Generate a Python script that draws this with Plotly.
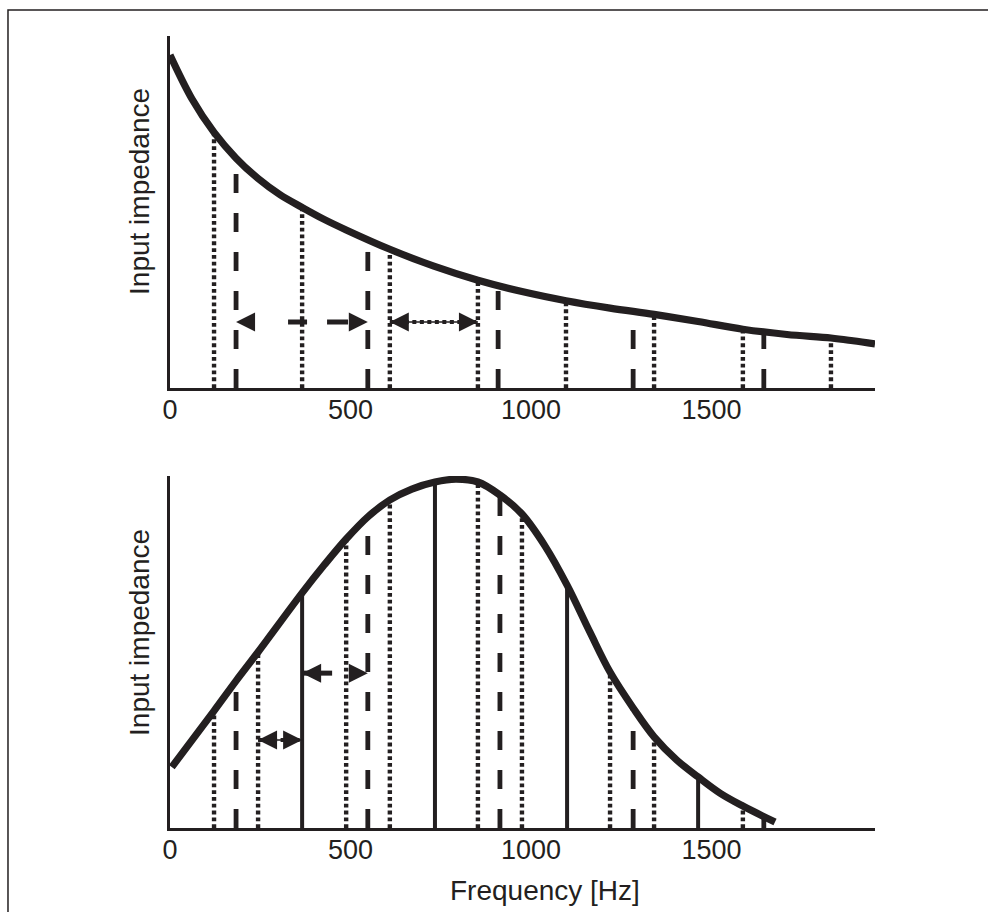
import plotly.graph_objects as go

# ---------------- data ----------------
# frequency axis in Hz, impedance in arbitrary units (0-100)
top_curve_hz = [0, 61, 122, 183, 244, 305, 366, 427, 488, 609, 731, 853, 975, 1097,
                1219, 1341, 1463, 1587, 1709, 1831, 1892, 1953]
top_curve_val = [94.6, 82.1, 72.6, 65.3, 59.5, 54.9, 51.3, 47.9, 44.9, 39.4, 34.6, 30.6,
                 27.4, 24.8, 22.7, 20.9, 18.9, 16.7, 15.2, 14.2, 13.4, 12.5]

bottom_curve_hz = [5, 122, 183, 244, 366, 427, 488, 548, 609, 670, 734, 792, 853, 914,
                   975, 1039, 1100, 1163, 1219, 1283, 1341, 1404, 1463, 1524, 1587, 1676]
bottom_curve_val = [17.3, 33.3, 41.8, 50.0, 66.8, 74.7, 82.1, 88.4, 93.2, 96.3, 98.3, 99.1,
                    98.3, 94.6, 89.2, 80.1, 69.0, 55.7, 44.3, 34.1, 25.9, 19.3, 14.5, 9.9,
                    6.25, 1.7]

top_dotted_hz = [122, 366, 609, 853, 1097, 1341, 1587, 1831]
top_dotted_val = [72.6, 51.3, 39.4, 30.6, 24.8, 20.9, 16.7, 14.2]
top_dashed_hz = [183, 548, 909, 1283, 1645]
top_dashed_val = [65.3, 42.0, 29.1, 21.8, 16.0]

bottom_solid_hz = [366, 734, 1100, 1463]
bottom_solid_val = [66.8, 98.3, 69.0, 14.5]
bottom_dotted_hz = [122, 244, 488, 609, 853, 975, 1219, 1341, 1587]
bottom_dotted_val = [33.3, 50.0, 82.1, 93.2, 98.3, 89.2, 44.3, 25.9, 6.25]
bottom_dashed_hz = [183, 548, 914, 1283, 1645]
bottom_dashed_val = [41.8, 88.4, 94.6, 34.1, 3.3]

arrow_panel = [1, 1, 2, 2]
arrow_from_hz = [183, 609, 366, 244]
arrow_to_hz = [548, 853, 548, 366]
arrow_level = [18.75, 18.75, 44.0, 25.0]
arrow_kind = ["dash", "dot", "dash", "dot"]

x_tick_vals = [0, 500, 1000, 1500]
x_tick_text = ["0", "500", "1000", "1500"]
y_title = "Input impedance"
x_title = "Frequency [Hz]"

# ---------------- styling ----------------
INK = "#231f20"
FONT = "Liberation Sans, Arial, Helvetica, sans-serif"
DASH = "19px,20px"
DOT = "3.8px,3px"
SHAFT_DASH = {0: "0px,52px,19px,20px,21px,400px", 2: "30px,300px"}

fig = go.Figure()


def vlines(xs, vals, panel, dash, width):
    for xv, top in zip(xs, vals):
        fig.add_trace(go.Scatter(
            x=[xv, xv], y=[0, top], mode="lines",
            xaxis="x" if panel == 1 else "x2", yaxis="y" if panel == 1 else "y2",
            line=dict(color=INK, width=width, dash=dash),
            hoverinfo="skip", showlegend=False))


vlines(top_dotted_hz, top_dotted_val, 1, DOT, 4.4)
vlines(top_dashed_hz, top_dashed_val, 1, DASH, 4.8)
vlines(bottom_dotted_hz, bottom_dotted_val, 2, DOT, 4.4)
vlines(bottom_dashed_hz, bottom_dashed_val, 2, DASH, 4.8)
vlines(bottom_solid_hz, bottom_solid_val, 2, "solid", 4)

for xs, ys, panel in [(top_curve_hz, top_curve_val, 1), (bottom_curve_hz, bottom_curve_val, 2)]:
    fig.add_trace(go.Scatter(
        x=xs, y=ys, mode="lines", line=dict(color=INK, width=7.2, shape="spline", smoothing=1.0),
        xaxis="x" if panel == 1 else "x2", yaxis="y" if panel == 1 else "y2",
        hoverinfo="skip", showlegend=False))

annotations = []
for i, (p, a, b, lv, kind) in enumerate(zip(arrow_panel, arrow_from_hz, arrow_to_hz,
                                               arrow_level, arrow_kind)):
    xa = "x" if p == 1 else "x2"
    ya = "y" if p == 1 else "y2"
    if kind == "dash":
        fig.add_trace(go.Scatter(x=[a, b], y=[lv, lv], mode="lines", xaxis=xa, yaxis=ya,
                                 line=dict(color=INK, width=5, dash=SHAFT_DASH.get(i, DASH)),
                                 hoverinfo="skip", showlegend=False))
    else:
        fig.add_trace(go.Scatter(x=[a, b], y=[lv, lv], mode="lines", xaxis=xa, yaxis=ya,
                                 line=dict(color=INK, width=1.6),
                                 hoverinfo="skip", showlegend=False))
        fig.add_trace(go.Scatter(x=[a, b], y=[lv, lv], mode="lines", xaxis=xa, yaxis=ya,
                                 line=dict(color=INK, width=4, dash="4px,3.5px"),
                                 hoverinfo="skip", showlegend=False))
    for tip, tail in [(a, a + 32), (b, b - 32)]:
        annotations.append(dict(x=tip, y=lv, ax=tail, ay=lv, xref=xa, yref=ya,
                                axref=xa, ayref=ya, showarrow=True, arrowhead=2,
                                arrowsize=1.9, arrowwidth=2, arrowcolor=INK, text=""))

# axis titles placed as text
annotations.append(dict(text=y_title, x=-0.0426, y=0.8043, xref="paper", yref="paper",
                        textangle=-90, showarrow=False, xanchor="center", yanchor="middle",
                        font=dict(size=28, color=INK, family=FONT)))
annotations.append(dict(text=y_title, x=-0.0426, y=0.2475, xref="paper", yref="paper",
                        textangle=-90, showarrow=False, xanchor="center", yanchor="middle",
                        font=dict(size=28, color=INK, family=FONT)))
annotations.append(dict(text=x_title, x=0.532, y=-0.0783, xref="paper", yref="paper",
                        showarrow=False, xanchor="center", yanchor="middle",
                        font=dict(size=28, color=INK, family=FONT)))

xaxis_common = dict(range=[0, 1953], showline=True, linecolor=INK, linewidth=2.5,
                    showgrid=False, zeroline=False, ticks="", tickvals=x_tick_vals,
                    ticktext=x_tick_text, tickfont=dict(size=27, color=INK, family=FONT),
                    ticklabelstandoff=-4, fixedrange=True)
yaxis_common = dict(range=[0, 100], showline=True, linecolor=INK, linewidth=2.5,
                    showgrid=False, zeroline=False, showticklabels=False, ticks="",
                    fixedrange=True)

fig.update_layout(
    width=988, height=912,
    margin=dict(l=170, r=113, t=36, b=84),
    paper_bgcolor="white", plot_bgcolor="white",
    xaxis=dict(**xaxis_common, anchor="y"),
    yaxis=dict(**yaxis_common, domain=[0.5556, 1.0], anchor="x"),
    xaxis2=dict(**xaxis_common, anchor="y2"),
    yaxis2=dict(**yaxis_common, domain=[0.0, 0.4444], anchor="x2"),
    annotations=annotations,
    shapes=[dict(type="rect", xref="paper", yref="paper", x0=-0.2298, x1=1.3,
                 y0=-0.3, y1=1.0328, line=dict(color=INK, width=1.5), layer="below")],
    showlegend=False,
)

fig.write_html("out.html", config={"displayModeBar": False})
